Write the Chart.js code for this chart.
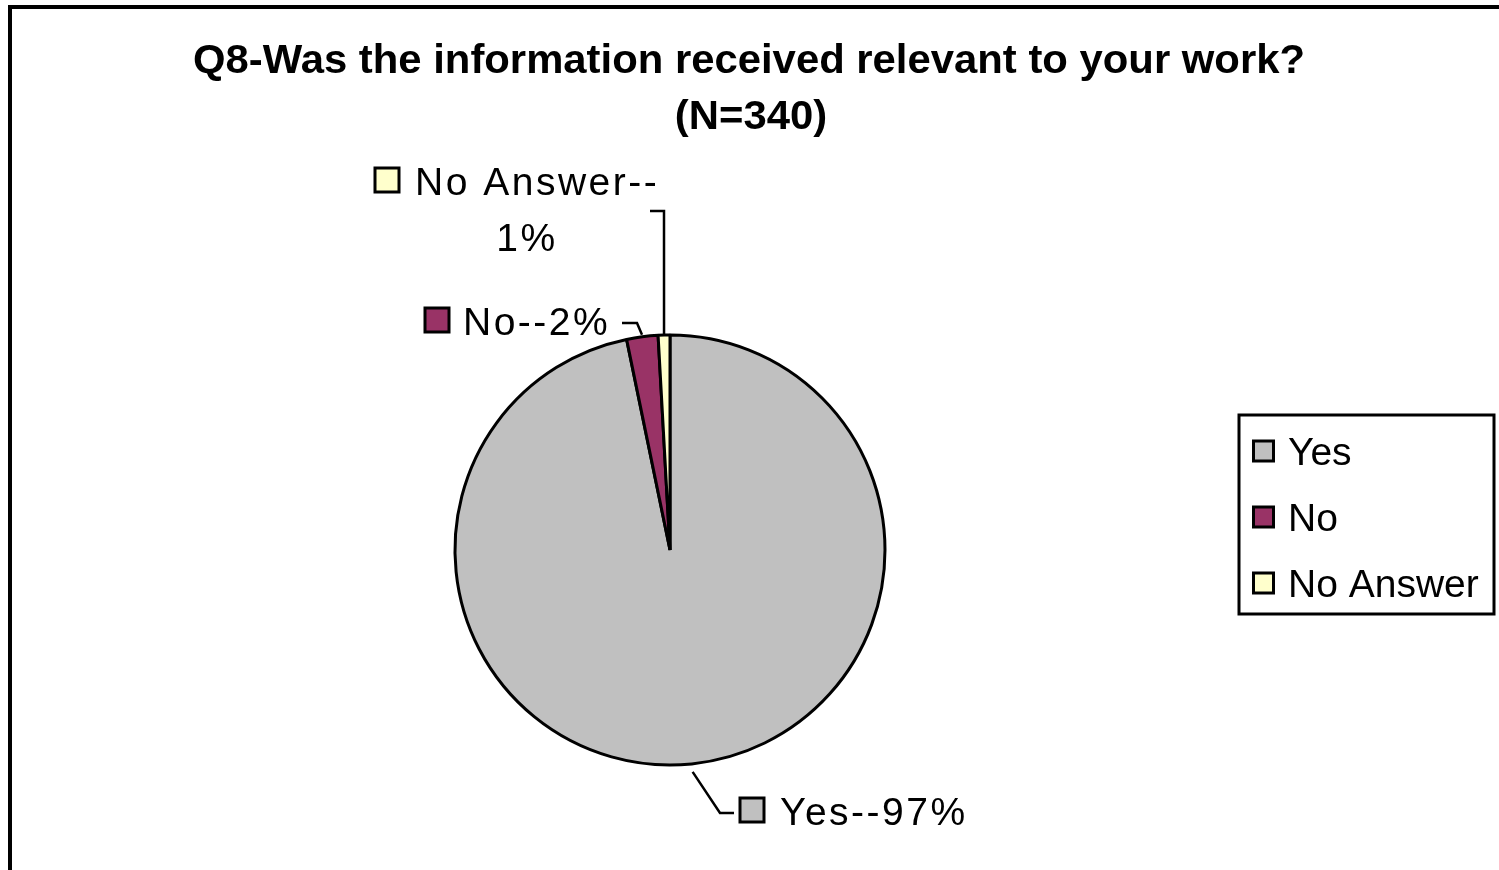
<!DOCTYPE html>
<html><head><meta charset="utf-8">
<script src="https://cdn.jsdelivr.net/npm/chart.js@4"></script>
<style>html,body{margin:0;padding:0;background:#fff;overflow:hidden}#wrap{width:1499px;height:870px;position:relative}canvas{display:block}</style>
</head><body><div id="wrap"><canvas id="c" width="1499" height="870"></canvas></div>
<script>
const categories = ['Yes', 'No', 'No Answer'];
const counts = [329, 8, 3];
const percentLabels = ['97%', '2%', '1%'];
const sliceColors = ['#C0C0C0', '#993366', '#FFFFCC'];
const titleLines = ['Q8-Was the information received relevant to your work?', '(N=340)'];

const FONT = '"Liberation Sans", Arial, sans-serif';

function swatch(ctx, cx, cy, size, color) {
  ctx.save();
  ctx.fillStyle = color;
  ctx.fillRect(cx - size / 2, cy - size / 2, size, size);
  ctx.lineWidth = 3;
  ctx.strokeStyle = '#000';
  ctx.strokeRect(cx - size / 2, cy - size / 2, size, size);
  ctx.restore();
}
function polyline(ctx, pts) {
  ctx.save();
  ctx.beginPath();
  ctx.moveTo(pts[0][0], pts[0][1]);
  for (let i = 1; i < pts.length; i++) ctx.lineTo(pts[i][0], pts[i][1]);
  ctx.lineWidth = 2.5;
  ctx.strokeStyle = '#000';
  ctx.lineJoin = 'miter';
  ctx.stroke();
  ctx.restore();
}

const decor = {
  id: 'decor',
  afterDraw(chart) {
    const ctx = chart.ctx;
    const meta = chart.getDatasetMeta(0);
    const a0 = meta.data[0];
    const cx = a0.x, cy = a0.y, r = a0.outerRadius;

    // outer frame
    ctx.save();
    ctx.lineWidth = 4;
    ctx.strokeStyle = '#000';
    ctx.beginPath();
    ctx.moveTo(10, 900); ctx.lineTo(10, 7); ctx.lineTo(1520, 7);
    ctx.stroke();
    ctx.restore();

    // title
    ctx.save();
    ctx.fillStyle = '#000';
    ctx.font = 'bold 40px ' + FONT;
    ctx.textAlign = 'center';
    ctx.textBaseline = 'alphabetic';
    const w = ctx.measureText(titleLines[0]).width;
    const sx = 1112 / w;
    ctx.translate(749, 73);
    ctx.scale(sx, 1);
    ctx.fillText(titleLines[0], 0, 0);
    ctx.fillText(titleLines[1], 2 / sx, 56);
    ctx.restore();

    // legend
    ctx.save();
    ctx.lineWidth = 3;
    ctx.strokeStyle = '#000';
    ctx.strokeRect(1239, 415, 255, 199);
    ctx.font = '39px ' + FONT;
    ctx.fillStyle = '#000';
    ctx.textBaseline = 'alphabetic';
    categories.forEach((c, i) => {
      const by = 465 + i * 66;
      swatch(ctx, 1263.5, by - 14, 20, sliceColors[i]);
      ctx.fillStyle = '#000';
      ctx.fillText(c, 1288, by);
    });
    ctx.restore();

    // point on arc at slice mid-angle
    function midPt(i, extra) {
      const el = meta.data[i];
      const m = (el.startAngle + el.endAngle) / 2;
      return [cx + Math.cos(m) * (r + extra), cy + Math.sin(m) * (r + extra)];
    }

    ctx.save();
    ctx.font = '39px ' + FONT;
    ctx.letterSpacing = '2.5px';
    ctx.fillStyle = '#000';
    ctx.textBaseline = 'alphabetic';

    // Yes label
    const pY = midPt(0, 8);
    polyline(ctx, [pY, [cx + 50, cy + 263], [cx + 64, cy + 263]]);
    swatch(ctx, cx + 82, cy + 260, 24, sliceColors[0]);
    ctx.fillText(categories[0] + '--' + percentLabels[0], cx + 110, cy + 275);

    // No label
    const pN = midPt(1, 2);
    polyline(ctx, [[cx - 48, cy - 227], [cx - 33, cy - 227], pN]);
    swatch(ctx, cx - 233, cy - 230, 24, sliceColors[1]);
    ctx.fillText(categories[1] + '--' + percentLabels[1], cx - 207, cy - 215);

    // No Answer label
    const pA = midPt(2, 0);
    polyline(ctx, [[cx - 20, cy - 339], [cx - 6, cy - 339], pA]);
    swatch(ctx, cx - 283, cy - 370, 24, sliceColors[2]);
    ctx.fillText(categories[2] + '--', cx - 255, cy - 355);
    ctx.textAlign = 'center';
    ctx.fillText(percentLabels[2], cx - 143, cy - 299);
    ctx.restore();
  }
};

new Chart(document.getElementById('c'), {
  type: 'pie',
  data: {
    labels: categories,
    datasets: [{
      data: counts,
      backgroundColor: sliceColors,
      borderColor: '#000',
      borderWidth: 3,
      radius: 215
    }]
  },
  options: {
    responsive: false,
    animation: false,
    devicePixelRatio: 1,
    events: [],
    layout: { padding: { left: 200, right: 359, top: 300, bottom: 70 } },
    plugins: { legend: { display: false }, title: { display: false }, tooltip: { enabled: false } }
  },
  plugins: [decor]
});
</script>
</body></html>
